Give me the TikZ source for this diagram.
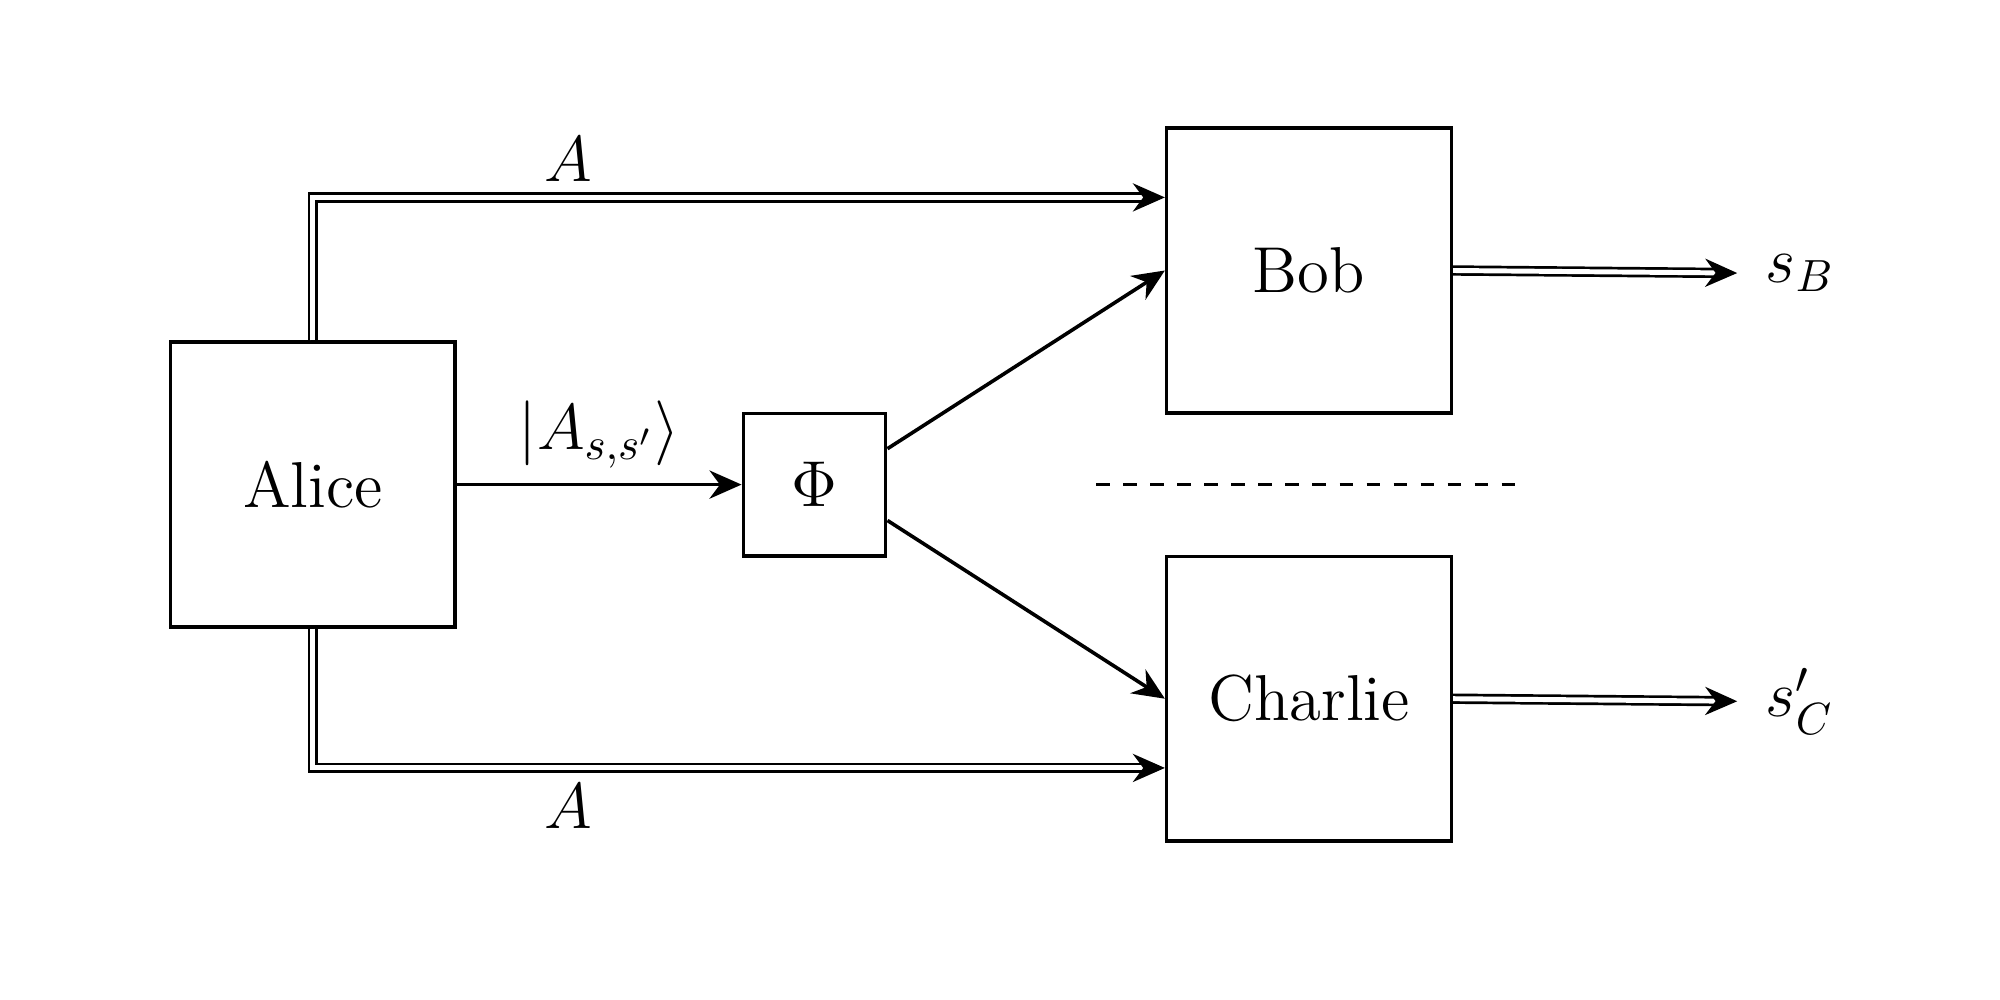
\documentclass[tikz,border=0pt]{standalone}
\usepackage{amsmath}
\usetikzlibrary{arrows.meta,positioning,calc}
\tikzset{
  party/.style={draw, line width=0.8pt, minimum size=2.22cm, inner sep=0pt, font=\Large},
  chan/.style={draw, line width=0.8pt, minimum size=1.11cm, inner sep=0pt, font=\Large},
  quant/.style={line width=0.8pt, -{Stealth[length=6mm/2.4, width=2.2mm]}},
  classical/.style={double, double distance=1.1pt, line width=0.6pt, -{Stealth[length=6mm/2.4, width=2.2mm]}},
}
\begin{document}
\begin{tikzpicture}
	\useasboundingbox (0,0) rectangle (15.6,7.8);
	\node[party] (Alice) at (2.44,4.02) {Alice} ;
	\node[chan, right=2.22cm of Alice] (Phi) {$\Phi$} ;
	\node[party] (Bob) at (10.21,5.69) {Bob} ;
	\node[party] (Charlie) at (10.21,2.35) {Charlie} ;
	\coordinate (sB) at (13.55,5.67) ;
	\coordinate (sC) at (13.55,2.33) ;
	\node[font=\Large, right=0.1cm of sB] (sBlab) {$s_B$} ;
	\node[font=\Large, right=0.1cm of sC] (sClab) {$s'_C$} ;
	\draw[classical] (Alice.north) |- node[pos=0.65, above, font=\Large] {$A$} ($(Bob.west)+(0,0.57)$) ;
	\draw[classical] (Alice.south) |- node[pos=0.65, below, font=\Large] {$A$} ($(Charlie.west)+(0,-0.54)$) ;
	\draw[quant] (Alice) -- node[above, font=\Large] {$|A_{s,s'}\rangle$} (Phi) ;
	\draw[quant] ($(Phi.east)+(0,0.28)$) -- (Bob.west) ;
	\draw[quant] ($(Phi.east)+(0,-0.28)$) -- (Charlie.west) ;
	\draw[classical] (Bob.east) -- (sB) ;
	\draw[classical] (Charlie.east) -- (sC) ;
	\draw[dashed, line width=0.8pt] (8.55,4.02) -- (11.88,4.02) ;
\end{tikzpicture}
\end{document}
